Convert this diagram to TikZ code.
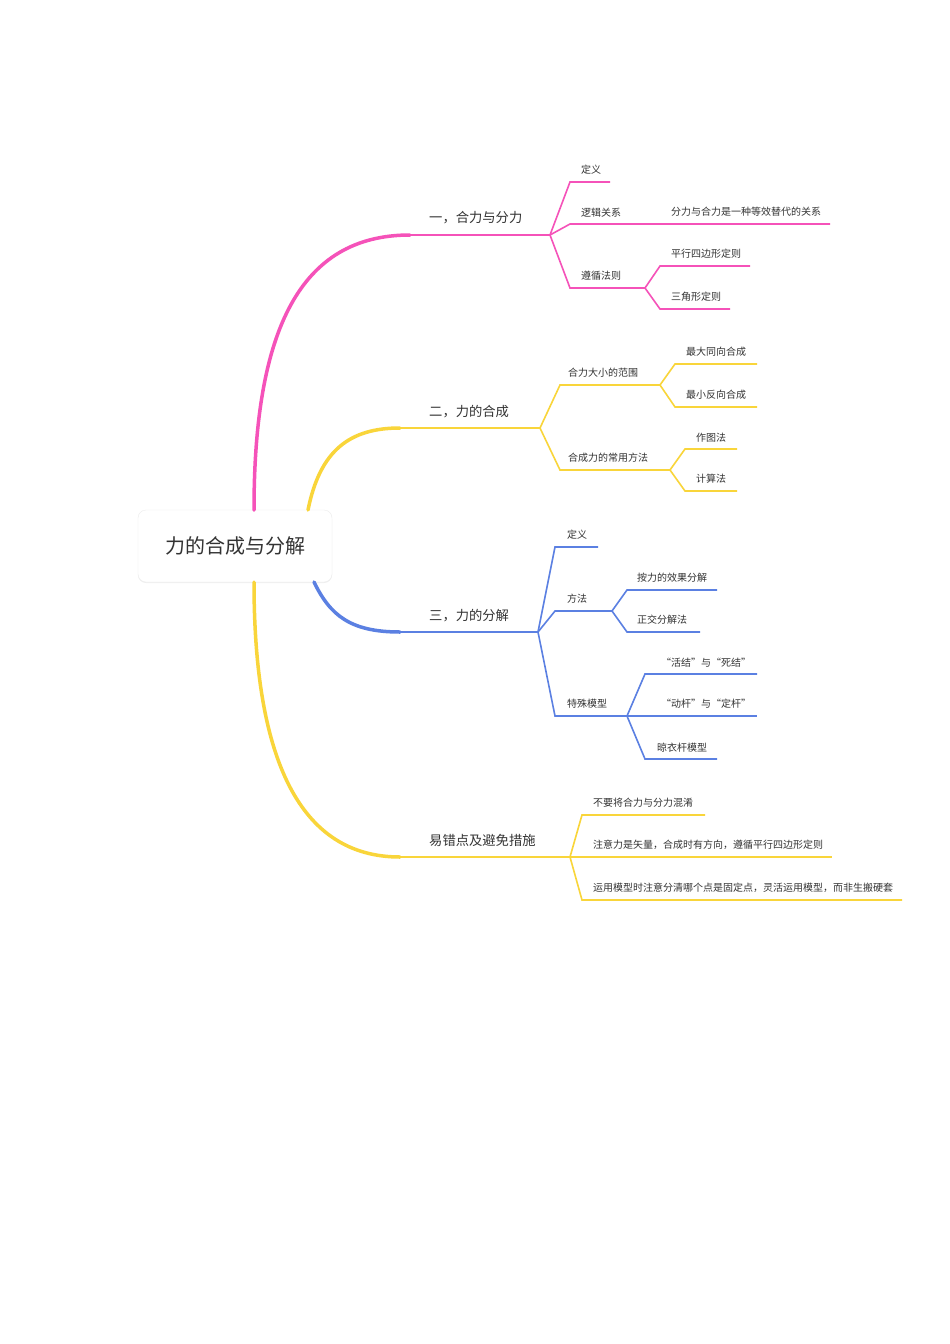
\documentclass[tikz,border=0pt]{standalone}
\usepackage{fontspec}
\setmainfont{Noto Sans CJK SC}
\usetikzlibrary{shadows,calc}
\definecolor{pk}{HTML}{F552B9}
\definecolor{yl}{HTML}{F9D53A}
\definecolor{bl}{HTML}{5B80E2}
\definecolor{tx}{HTML}{333333}
\tikzset{
 lab/.style={anchor=south west,inner sep=1pt,text=tx,font=\fontsize{10}{12}\selectfont},
 big/.style={anchor=south west,inner sep=1pt,text=tx,font=\fontsize{13.3}{16}\selectfont},
 ln/.style={line width=1.6pt},
 main/.style={line width=3.5pt,line cap=round},
}
\newcommand{\br}[4]{\draw[ln,#1] (#2) .. controls ($(#2)!0.5!(#3)$ |- #2) and ($(#2)!0.5!(#3)$ |- #3) .. (#3) -- (#4);}
\begin{document}
\begin{tikzpicture}[x=1pt,y=-1pt]
\useasboundingbox (0,0) rectangle (950,1344);
\fill[white] (0,0) rectangle (950,1344);
% root
\node[draw=gray!15,fill=white,rounded corners=8pt,minimum width=194pt,minimum height=72pt,drop shadow={opacity=0.12,shadow xshift=0pt,shadow yshift=-1pt},text=tx,font=\fontsize{20}{24}\selectfont] (root) at (235,546) {力的合成与分解};
\coordinate (r1) at (254,510); \coordinate (r2) at (308,510);
\coordinate (r3) at (314,582); \coordinate (r4) at (254,582);
\coordinate (a0) at (410,235); \coordinate (a1) at (550,235);
\coordinate (b0) at (400,428); \coordinate (b1) at (540,428);
\coordinate (c0) at (400,632); \coordinate (c1) at (538,632);
\coordinate (d0) at (400,857); \coordinate (d1) at (570,857);
\draw[main,pk] (r1) .. controls (254,330) and (300,235) .. (a0);
\draw[ln,pk] (a0) -- (a1);
\draw[main,yl] (r2) .. controls (320,450) and (350,428) .. (b0);
\draw[ln,yl] (b0) -- (b1);
\draw[main,bl] (r3) .. controls (330,615) and (350,632) .. (c0);
\draw[ln,bl] (c0) -- (c1);
\draw[main,yl] (r4) .. controls (254,760) and (300,857) .. (d0);
\draw[ln,yl] (d0) -- (d1);
\node[big] (A) at (428,225) {一，合力与分力};
\node[big] (B) at (428,419) {二，力的合成};
\node[big] (C) at (428,623) {三，力的分解};
\node[big] (D) at (428,848) {易错点及避免措施};
% branch 1
\coordinate (a11) at (570,182); \coordinate (a12) at (610,182);
\coordinate (a21) at (570,224); \coordinate (a22) at (830,224);
\coordinate (a31) at (570,288); \coordinate (a32) at (645,288);
\br{pk}{a1}{a11}{a12} \br{pk}{a1}{a21}{a22} \br{pk}{a1}{a31}{a32}
\node[lab] (A1) at (580,176) {定义};
\node[lab] (A2) at (580,218) {逻辑关系};
\node[lab] (A2a) at (670,218) {分力与合力是一种等效替代的关系};
\node[lab] (A3) at (580,282) {遵循法则};
\coordinate (a311) at (660,266); \coordinate (a312) at (750,266);
\coordinate (a321) at (660,309); \coordinate (a322) at (730,309);
\br{pk}{a32}{a311}{a312} \br{pk}{a32}{a321}{a322}
\node[lab] (A31) at (670,260) {平行四边形定则};
\node[lab] (A32) at (670,303) {三角形定则};
% branch 2
\coordinate (b11) at (560,385); \coordinate (b12) at (660,385);
\coordinate (b21) at (560,470); \coordinate (b22) at (670,470);
\br{yl}{b1}{b11}{b12} \br{yl}{b1}{b21}{b22}
\node[lab] (B1) at (567,379) {合力大小的范围};
\node[lab] (B2) at (567,464) {合成力的常用方法};
\coordinate (b111) at (675,364); \coordinate (b112) at (757,364);
\coordinate (b121) at (675,407); \coordinate (b122) at (757,407);
\br{yl}{b12}{b111}{b112} \br{yl}{b12}{b121}{b122}
\node[lab] (B11) at (685,358) {最大同向合成};
\node[lab] (B12) at (685,401) {最小反向合成};
\coordinate (b211) at (685,449); \coordinate (b212) at (737,449);
\coordinate (b221) at (685,491); \coordinate (b222) at (737,491);
\br{yl}{b22}{b211}{b212} \br{yl}{b22}{b221}{b222}
\node[lab] (B21) at (695,443) {作图法};
\node[lab] (B22) at (695,485) {计算法};
% branch 3
\coordinate (c11) at (555,547); \coordinate (c12) at (598,547);
\coordinate (c21) at (555,611); \coordinate (c22) at (612,611);
\coordinate (c31) at (555,716); \coordinate (c32) at (627,716);
\br{bl}{c1}{c11}{c12} \br{bl}{c1}{c21}{c22} \br{bl}{c1}{c31}{c32}
\node[lab] (C1) at (566,541) {定义};
\node[lab] (C2) at (566,605) {方法};
\node[lab] (C3) at (566,710) {特殊模型};
\coordinate (c211) at (627,590); \coordinate (c212) at (717,590);
\coordinate (c221) at (627,632); \coordinate (c222) at (700,632);
\br{bl}{c22}{c211}{c212} \br{bl}{c22}{c221}{c222}
\node[lab] (C21) at (636,584) {按力的效果分解};
\node[lab] (C22) at (636,626) {正交分解法};
\coordinate (c311) at (645,674); \coordinate (c312) at (757,674);
\coordinate (c321) at (645,716); \coordinate (c322) at (757,716);
\coordinate (c331) at (645,759); \coordinate (c332) at (717,759);
\br{bl}{c32}{c311}{c312} \br{bl}{c32}{c321}{c322} \br{bl}{c32}{c331}{c332}
\node[lab] (C31) at (660,668) {“活结”与“死结”};
\node[lab] (C32) at (660,710) {“动杆”与“定杆”};
\node[lab] (C33) at (656,753) {晾衣杆模型};
% branch 4
\coordinate (d11) at (582,815); \coordinate (d12) at (705,815);
\coordinate (d21) at (582,857); \coordinate (d22) at (832,857);
\coordinate (d31) at (582,900); \coordinate (d32) at (902,900);
\br{yl}{d1}{d11}{d12} \draw[ln,yl] (d1) -- (d22); \br{yl}{d1}{d31}{d32}
\node[lab] (D1) at (592,809) {不要将合力与分力混淆};
\node[lab] (D2) at (592,851) {注意力是矢量，合成时有方向，遵循平行四边形定则};
\node[lab] (D3) at (592,894) {运用模型时注意分清哪个点是固定点，灵活运用模型，而非生搬硬套};
\end{tikzpicture}
\end{document}
